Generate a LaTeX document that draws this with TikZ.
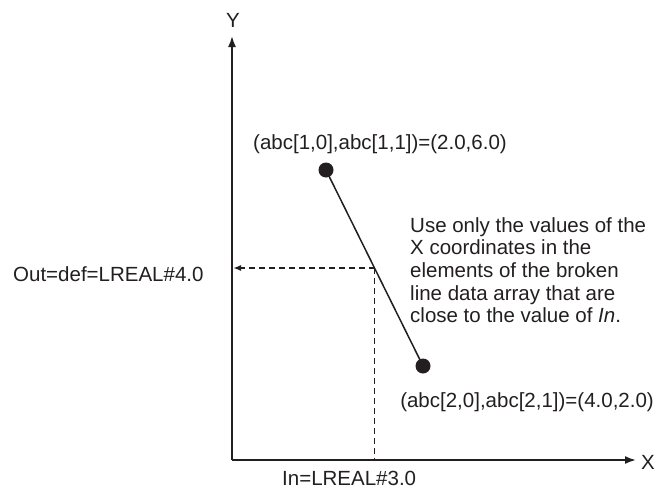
\documentclass[tikz,border=0pt]{standalone}
\usepackage{fontspec}
\setmainfont{Liberation Sans}
\usetikzlibrary{arrows.meta}
\definecolor{ink}{RGB}{35,31,32}
\begin{document}
\begin{tikzpicture}[x=1pt,y=-1pt,
  lbl/.style={font=\fontsize{20.5}{22.7}\selectfont, inner sep=0pt, text=ink},
  axisline/.style={draw=ink, line width=1.8pt, -{Latex[length=11pt,width=8pt]}},
  seg/.style={draw=ink, line width=1.5pt},
  guide/.style={draw=ink, line width=1.6pt, dash pattern=on 6pt off 4pt},
  dot/.style={circle, fill=ink, minimum size=15pt, inner sep=0pt}]
\useasboundingbox (0,0) rectangle (656,498);
\coordinate (O) at (232,460);
\coordinate (Ytip) at (232,36);
\coordinate (Xtip) at (636,460);
\node[dot] (p1) at (326,170) {};
\node[dot] (p2) at (423,366) {};
\coordinate (q) at (374.5,268);
\coordinate (qy) at (233,268);
\coordinate (qx) at (374.5,460);
\draw[axisline] (O) -- (Ytip);
\draw[axisline] (O) -- (Xtip);
\draw[seg] (p1.center) -- (p2.center);
\draw[guide, -{Latex[length=8pt,width=6pt]}] (q) -- (qy);
\draw[guide] (q) -- (qx);
\node[lbl] (ylab) at (233,20) {Y};
\node[lbl, anchor=west] (xlab) at (641,462) {X};
\node[lbl, anchor=base west] (l1) at (253,149) {(abc[1,0],abc[1,1])=(2.0,6.0)};
\node[lbl, anchor=base east] (l2) at (654,407) {(abc[2,0],abc[2,1])=(4.0,2.0)};
\node[lbl, anchor=base west] (outl) at (13,281) {Out=def=LREAL\#4.0};
\node[lbl, anchor=base west] (inl) at (282,485) {In=LREAL\#3.0};
\node[lbl, anchor=north west, align=left] (note) at (410,217) {Use only the values of the\\X coordinates in the\\elements of the broken\\line data array that are\\close to the value of \textit{In}.};
\end{tikzpicture}
\end{document}
